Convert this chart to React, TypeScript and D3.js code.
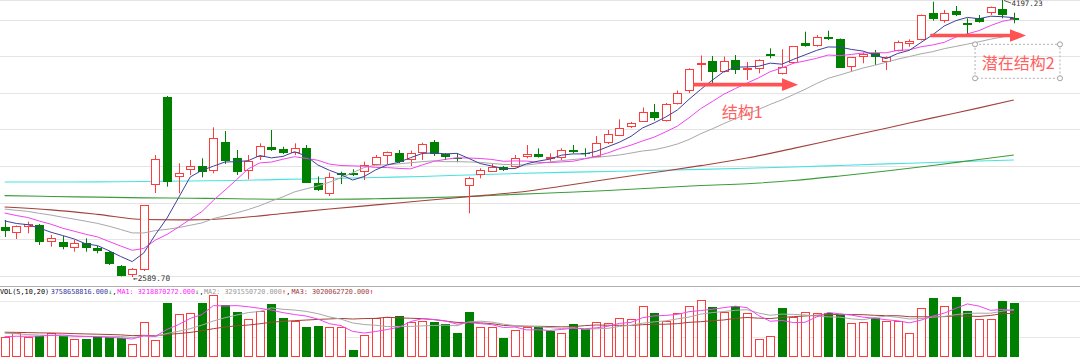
import { useEffect, useRef } from 'react';
import * as d3 from 'd3';

// closes before the first visible bar (estimated from where the MAs start)
const priorCloses = [3030, 3025, 3020, 3015, 3010, 3005, 3000, 2995, 2990, 2980, 3030, 3015, 3000, 2995, 2993, 2960, 2935, 2890, 2935];

const opens = [
  2879.9, 2846.8, 2878.2, 2891.5, 2794.6, 2794.6, 2759.8, 2785.3, 2756.3, 2736.6,
  2653.6, 2601.4, 2630.4, 3123.6, 3636.0, 3168.3, 3210.7, 3233.9, 3206.6, 3374.9,
  3282.1, 3206.6, 3287.9, 3342.4, 3330.8, 3311.1, 3336.6, 3138.1, 3071.4, 3191.5,
  3191.5, 3200.8, 3239.7, 3291.9, 3311.1, 3268.7, 3311.1, 3371.4, 3303.5, 3278.6,
  3119.6, 3181.7, 3200.8, 3226.4, 3229.8, 3287.9, 3306.4, 3276.3, 3278.6, 3326.7,
  3311.1, 3287.9, 3365.6, 3409.7, 3462.0, 3492.1, 3549.0, 3495.0, 3592.0, 3669.1,
  3820.0, 3843.2, 3779.4, 3849.0, 3791.0, 3796.8, 3882.1, 3767.8, 3829.9, 3949.4,
  3932.0, 3984.2, 3970.9, 3810.1, 3864.7, 3887.9, 3837.4, 3903.0, 3944.0, 3965.1,
  4123.5, 4077.1, 4135.1, 4065.5, 4091.0, 4120.0, 4143.2, 4091.0,
];
const highs = [
  2920.5, 2888.6, 2910.7, 2897.3, 2833.5, 2827.7, 2804.5, 2814.3, 2769.7, 2740.6,
  2659.4, 2642.0, 3007.6, 3297.7, 3640.1, 3249.6, 3268.7, 3278.6, 3458.5, 3437.0,
  3326.7, 3297.7, 3365.6, 3442.8, 3345.9, 3365.6, 3355.8, 3173.0, 3196.2, 3200.8,
  3214.8, 3258.9, 3297.7, 3318.0, 3326.7, 3322.7, 3369.1, 3384.8, 3309.3, 3303.5,
  3171.8, 3220.6, 3249.6, 3233.9, 3297.7, 3355.8, 3336.6, 3307.6, 3336.6, 3355.8,
  3336.6, 3408.0, 3442.8, 3504.9, 3489.2, 3573.4, 3593.7, 3599.5, 3672.0, 3800.9,
  3875.1, 3872.2, 3869.3, 3878.0, 3837.4, 3853.1, 3916.9, 3911.1, 3930.3, 4013.2,
  3994.1, 4019.0, 3973.8, 3866.4, 3891.4, 3907.0, 3869.3, 3962.2, 3969.1, 4113.1,
  4187.3, 4139.2, 4162.4, 4091.0, 4110.2, 4159.5, 4197.23, 4123.5,
];
const lows = [
  2821.9, 2810.3, 2843.4, 2775.5, 2765.6, 2750.5, 2736.6, 2736.6, 2727.3, 2659.4,
  2592.7, 2589.70, 2624.6, 3077.2, 3113.8, 3075.5, 3181.7, 3168.3, 3191.5, 3245.5,
  3181.7, 3156.7, 3268.7, 3320.9, 3303.5, 3297.7, 3135.3, 3088.8, 3059.8, 3129.4,
  3175.9, 3152.7, 3236.8, 3243.8, 3251.3, 3233.9, 3268.7, 3291.9, 3268.7, 3255.4,
  2959.4, 3162.5, 3199.1, 3204.9, 3226.4, 3278.6, 3283.2, 3258.9, 3268.7, 3307.6,
  3287.9, 3286.1, 3361.6, 3408.0, 3454.4, 3492.1, 3497.9, 3492.1, 3590.8, 3657.5,
  3727.2, 3698.1, 3776.5, 3767.8, 3733.0, 3771.8, 3858.9, 3764.9, 3828.7, 3926.2,
  3926.2, 3965.1, 3802.6, 3781.1, 3829.9, 3820.0, 3791.0, 3898.3, 3926.2, 3962.2,
  4077.1, 4065.5, 4104.4, 3994.1, 4065.5, 4110.2, 4091.0, 4062.0,
];
const closes = [
  2856.7, 2885.7, 2899.1, 2791.1, 2814.3, 2762.1, 2785.3, 2756.3, 2742.4, 2665.2,
  2595.6, 2636.2, 3007.6, 3274.5, 3142.8, 3191.5, 3233.9, 3200.8, 3394.6, 3264.7,
  3200.8, 3262.9, 3350.0, 3326.7, 3307.6, 3336.6, 3137.0, 3091.7, 3171.8, 3181.7,
  3179.9, 3239.7, 3284.4, 3316.9, 3258.9, 3311.1, 3361.6, 3301.8, 3287.9, 3274.5,
  3166.0, 3210.7, 3229.8, 3210.7, 3278.6, 3303.5, 3289.0, 3286.0, 3326.7, 3315.1,
  3301.8, 3365.6, 3419.6, 3457.3, 3485.2, 3547.3, 3510.7, 3592.0, 3659.3, 3795.1,
  3831.6, 3779.4, 3841.5, 3791.0, 3800.9, 3850.8, 3870.5, 3810.1, 3930.3, 3932.0,
  3980.7, 3970.9, 3804.3, 3864.7, 3883.8, 3864.7, 3866.4, 3955.2, 3957.0, 4110.2,
  4085.2, 4123.5, 4110.2, 4052.1, 4071.3, 4158.3, 4110.2, 4081.1,
];

// volume in 1e8 shares
const priorVolumes = [18.5, 17.0, 19.0, 18.0, 17.5, 18.5, 17.0, 18.0, 17.5, 18.0, 20.0, 19.5, 18.5, 19.0, 17.5, 15.0, 14.0, 14.3, 13.5];
const volumes = [
  13.7, 16.5, 14.1, 14.6, 16.5, 14.8, 12.7, 12.7, 14.1, 13.7,
  13.0, 9.0, 24.2, 11.8, 37.6, 29.9, 30.4, 37.4, 43.2, 36.2,
  31.3, 26.4, 32.0, 36.9, 27.4, 24.8, 21.1, 21.6, 20.7, 20.7,
  4.9, 15.3, 26.9, 27.8, 28.5, 24.6, 25.1, 24.2, 23.0, 16.9,
  31.1, 20.7, 20.7, 13.0, 18.6, 21.1, 21.1, 18.3, 16.5, 23.0,
  19.3, 24.2, 23.5, 26.9, 26.2, 35.7, 30.4, 25.3, 30.4, 35.5,
  39.7, 34.6, 31.1, 35.5, 30.4, 12.3, 14.8, 33.9, 28.0, 31.5,
  30.8, 30.4, 29.2, 23.5, 24.6, 26.9, 25.3, 25.3, 16.5, 33.9,
  40.9, 35.7, 41.8, 32.0, 26.2, 26.2, 39.0, 37.5866,
];

// long moving averages, read every 4th bar
const longMaIdx = [0, 4, 8, 12, 16, 20, 24, 28, 32, 36, 40, 44, 48, 52, 56, 60, 64, 68, 72, 76, 80, 84, 87];
const ma60 = [2996, 2979, 2953, 2923, 2921, 2932, 2958, 2984, 3008, 3032, 3056, 3080, 3116, 3157, 3196, 3236, 3280, 3336, 3395, 3453, 3513, 3571, 3617];
const ma120 = [3062, 3057, 3053, 3049, 3047, 3044, 3041, 3041, 3044, 3049, 3057, 3069, 3080, 3092, 3106, 3121, 3131, 3150, 3176, 3205, 3237, 3272, 3298];
const ma250 = [3141, 3141, 3142, 3144, 3147, 3150, 3156, 3161, 3167, 3173, 3182, 3190, 3197, 3202, 3208, 3214, 3221, 3228, 3237, 3246, 3254, 3263, 3269];

// header line of the volume pane
const volHeader = [
  { text: 'VOL(5,10,20)', x: 0, color: '#000' },
  { text: '3758658816.000', x: 50.7, color: '#3535a0' },
  { text: '↓', x: 108.2, color: '#0a9a0a' },
  { text: ',', x: 112.5, color: '#000' },
  { text: 'MA1: 3218870272.000', x: 117.3, color: '#ff20ff' },
  { text: '↓', x: 195.1, color: '#0a9a0a' },
  { text: ',', x: 199.4, color: '#000' },
  { text: 'MA2: 3291550720.000', x: 204, color: '#9a9a9a' },
  { text: '↑', x: 282, color: '#ff2020' },
  { text: ',', x: 286.3, color: '#000' },
  { text: 'MA3: 3020062720.000', x: 291.5, color: '#a03c3c' },
  { text: '↑', x: 369.5, color: '#ff2020' },
];

const arrows = [
  { from: 59.4, to: 68.4, price: 3706 },
  { from: 79.8, to: 88.05, price: 3991 },
];

const W = 1080;
const H = 360;
const UP = '#ff3c3c';
const DOWN = '#008000';

const movingAvg = (vals: number[], prior: number[], span: number) => {
  const all = prior.concat(vals);
  return vals.map((_, i) => d3.mean(all.slice(i + prior.length - span + 1, i + prior.length + 1)) as number);
};

const App = () => {
  const svgRef = useRef<SVGSVGElement>(null);

  useEffect(() => {
    if (!svgRef.current) return;
    const svg = d3.select(svgRef.current);
    svg.selectAll('*').remove();

    const n = closes.length;
    const x = d3.scaleLinear().domain([0, n - 1]).range([4.6, 1013.8]);
    const y = d3.scaleLinear().domain([2589.70, 4197.23]).range([277, 0]);
    const yv = d3.scaleLinear().domain([0, 50]).range([357, 285]);
    const px = (i: number) => Math.round(x(i));

    // grid lines and panel borders
    const grid = svg.append('g');
    d3.range(8).forEach((k) => {
      const gy = Math.round(19.5 + k * 36.6) + 0.5;
      grid.append('line').attr('x1', 0).attr('x2', W).attr('y1', gy).attr('y2', gy).attr('stroke', '#e4e4e4');
    });
    [301.5, 337.5].forEach((gy) =>
      grid.append('line').attr('x1', 0).attr('x2', W).attr('y1', gy).attr('y2', gy).attr('stroke', '#e8e8e8'));
    grid.append('line').attr('x1', 0).attr('x2', W).attr('y1', 0.5).attr('y2', 0.5).attr('stroke', '#e4e4e4');
    grid.append('line').attr('x1', 0).attr('x2', W).attr('y1', 286.5).attr('y2', 286.5).attr('stroke', '#b0b0b0');

    // long moving averages
    const longLine = d3.line<number>()
      .x((_, k) => x(longMaIdx[k]))
      .y((d) => y(d))
      .curve(d3.curveMonotoneX);
    [
      { data: ma250, color: '#48e2e2' },
      { data: ma120, color: '#3c9c3c' },
      { data: ma60, color: '#a2423c' },
    ].forEach((s) => {
      svg.append('path').attr('d', longLine(s.data)).attr('fill', 'none').attr('stroke', s.color).attr('stroke-width', 1.1);
    });

    // candles
    const candles = svg.append('g');
    closes.forEach((c, i) => {
      const o = opens[i];
      const cx = px(i);
      const yH = y(highs[i]);
      const yL = y(lows[i]);
      const up = c >= o;
      const top = Math.round(y(Math.max(o, c)));
      const bot = Math.max(Math.round(y(Math.min(o, c))), top + 1);
      if (up) {
        candles.append('line').attr('x1', cx + 0.5).attr('x2', cx + 0.5).attr('y1', yH).attr('y2', top)
          .attr('stroke', UP);
        candles.append('line').attr('x1', cx + 0.5).attr('x2', cx + 0.5).attr('y1', bot).attr('y2', yL)
          .attr('stroke', UP);
        candles.append('rect').attr('x', cx - 3.5).attr('y', top + 0.5).attr('width', 8)
          .attr('height', Math.max(bot - top - 1, 0.5)).attr('fill', '#fff').attr('stroke', UP);
      } else {
        candles.append('line').attr('x1', cx + 0.5).attr('x2', cx + 0.5).attr('y1', yH).attr('y2', yL)
          .attr('stroke', DOWN);
        candles.append('rect').attr('x', cx - 4).attr('y', top).attr('width', 9)
          .attr('height', bot - top).attr('fill', DOWN);
      }
    });

    // short moving averages
    const maLine = d3.line<number>().x((_, i) => x(i)).y((d) => y(d));
    [
      { span: 20, color: '#a8a8a8' },
      { span: 10, color: '#f045f0' },
      { span: 5, color: '#40409c' },
    ].forEach((s) => {
      svg.append('path').attr('d', maLine(movingAvg(closes, priorCloses, s.span)))
        .attr('fill', 'none').attr('stroke', s.color).attr('stroke-width', 1);
    });

    // extreme labels
    const lowIdx = d3.minIndex(lows);
    const highIdx = d3.maxIndex(highs);
    svg.append('text').attr('x', px(lowIdx) + 1).attr('y', y(lows[lowIdx]) + 4)
      .attr('font-family', 'DejaVu Sans Mono').attr('font-size', 7.7).attr('fill', '#333')
      .text(`←${lows[lowIdx].toFixed(2)}`);
    svg.append('line').attr('x1', px(highIdx) + 2).attr('y1', y(highs[highIdx]) + 0.5)
      .attr('x2', px(highIdx) + 9).attr('y2', y(highs[highIdx]) + 3).attr('stroke', '#333').attr('stroke-width', 0.8);
    svg.append('text').attr('x', px(highIdx) + 9.5).attr('y', y(highs[highIdx]) + 6)
      .attr('font-family', 'DejaVu Sans Mono').attr('font-size', 7.4).attr('fill', '#333')
      .text(highs[highIdx].toFixed(2));

    // volume bars
    const vol = svg.append('g');
    volumes.forEach((v, i) => {
      const cx = px(i);
      const top = Math.round(yv(v));
      const up = i === 0 || closes[i] >= closes[i - 1];
      if (up) {
        vol.append('rect').attr('x', cx - 3.5).attr('y', top + 0.5).attr('width', 8)
          .attr('height', 357 - top - 1).attr('fill', '#fff').attr('stroke', UP);
      } else {
        vol.append('rect').attr('x', cx - 4).attr('y', top).attr('width', 9)
          .attr('height', 357 - top).attr('fill', DOWN);
      }
    });
    const volLine = d3.line<number>().x((_, i) => x(i)).y((d) => yv(d));
    [
      { span: 20, color: '#a2423c' },
      { span: 10, color: '#a8a8a8' },
      { span: 5, color: '#f045f0' },
    ].forEach((s) => {
      svg.append('path').attr('d', volLine(movingAvg(volumes, priorVolumes, s.span)))
        .attr('fill', 'none').attr('stroke', s.color).attr('stroke-width', 1);
    });

    // volume header
    volHeader.forEach((h) => {
      svg.append('text').attr('x', h.x).attr('y', 293.5)
        .attr('font-family', 'DejaVu Sans Mono').attr('font-size', 6.8).attr('fill', h.color)
        .text(h.text);
    });

    // annotations
    const note = svg.append('g');
    arrows.forEach((a) => {
      const x0 = x(a.from);
      const x1 = x(a.to);
      const ay = y(a.price);
      const head = 16;
      note.append('path')
        .attr('d', `M${x0},${ay - 1.8}H${x1 - head}V${ay - 6.3}L${x1},${ay}L${x1 - head},${ay + 6.3}V${ay + 1.8}H${x0}Z`)
        .attr('fill', '#ff5252');
    });
    note.append('text').attr('x', x(61.82)).attr('y', y(3515))
      .attr('font-family', '"Noto Sans CJK SC", sans-serif').attr('font-size', 16).attr('fill', '#ff6060')
      .text('结构1');

    const bx0 = x(83.66);
    const bx1 = x(90.98);
    const by0 = y(3940);
    const by1 = y(3743);
    note.append('rect').attr('x', bx0).attr('y', by0).attr('width', bx1 - bx0).attr('height', by1 - by0)
      .attr('fill', 'none').attr('stroke', '#b0b0b0').attr('stroke-dasharray', '2,2');
    [[bx0, by0], [bx1, by0], [bx0, by1], [bx1, by1]].forEach(([cx, cy]) => {
      note.append('circle').attr('cx', cx).attr('cy', cy).attr('r', 2.5)
        .attr('fill', '#fff').attr('stroke', '#a0a0a0');
    });
    note.append('text').attr('x', x(84.23)).attr('y', y(3797))
      .attr('font-family', '"Noto Sans CJK SC", sans-serif').attr('font-size', 16).attr('fill', '#ff6060')
      .text('潜在结构2');
  }, []);

  return (
    <div style={{ position: 'absolute', left: 0, top: 0, width: W, height: H, background: '#fff' }}>
      <svg ref={svgRef} width={W} height={H} style={{ display: 'block' }}></svg>
    </div>
  );
};

export default App;
